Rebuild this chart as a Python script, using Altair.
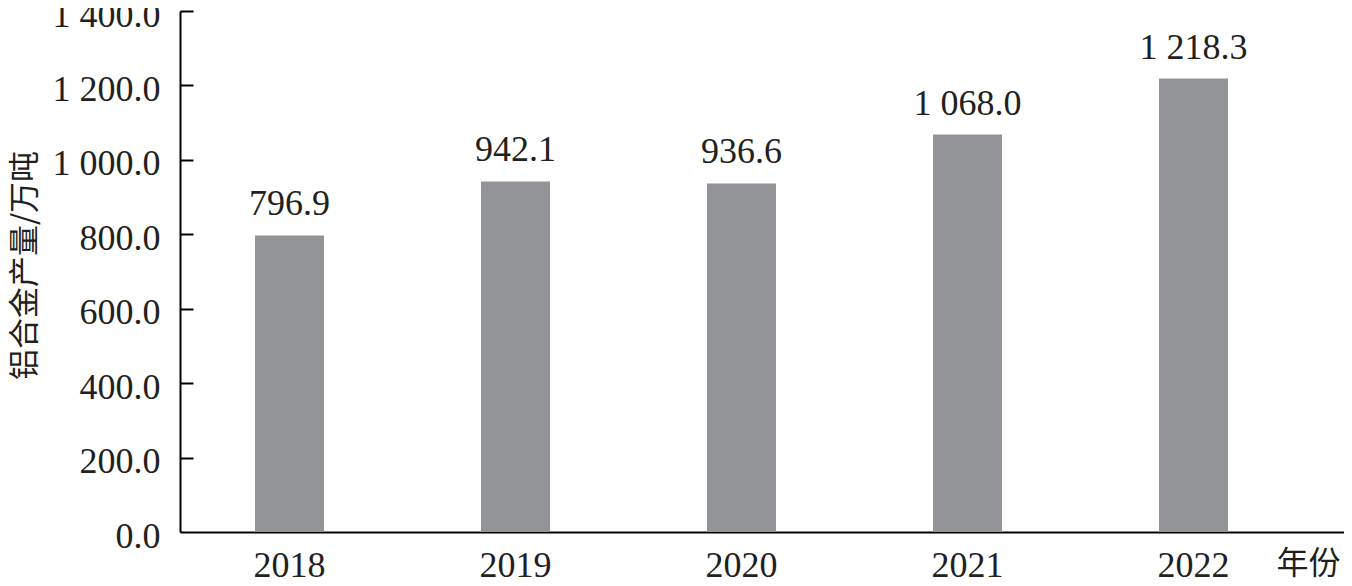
import altair as alt
import pandas as pd

years = ["2018", "2019", "2020", "2021", "2022"]
output = [796.9, 942.1, 936.6, 1068.0, 1218.3]
y_ticks = [0, 200, 400, 600, 800, 1000, 1200, 1400]
inner_ticks = [200, 400, 600, 800, 1000, 1200, 1400]

df = pd.DataFrame({"year": years, "value": output})

SERIF = "Liberation Serif"
CJK = "Noto Sans CJK SC"
FMT = "replace(format(datum.value, ',.1f'), ',', ' ')"
W, H = 1164, 521

xscale = alt.Scale(paddingInner=0.6947, paddingOuter=0.4226, align=0.3927)
yscale = alt.Scale(domain=[0, 1400], nice=False, zero=True)

base = alt.Chart(df)

bars = base.mark_bar(color="#929497").encode(
    x=alt.X("year:N", scale=xscale, sort=years,
            axis=alt.Axis(title="年份", labelAngle=0, ticks=False, domain=True,
                          domainColor="black", domainWidth=2,
                          labelFont=SERIF, labelFontSize=36, labelColor="#231f20",
                          labelBaseline="alphabetic", labelPadding=44,
                          titleFont=CJK, titleFontSize=32, titleFontWeight="normal",
                          titleColor="#231f20", titleX=1128, titleY=31,
                          titleAlign="center", titleBaseline="middle")),
    y=alt.Y("value:Q", scale=yscale,
            axis=alt.Axis(title="铝合金产量/万吨", values=y_ticks, grid=False, ticks=False,
                          domain=True, domainColor="black", domainWidth=2,
                          labelExpr=FMT, labelFont=SERIF, labelFontSize=36,
                          labelColor="#231f20", labelPadding=20, labelOffset=4,
                          titleFont=CJK, titleFontSize=31, titleFontWeight="normal",
                          titleColor="#231f20", titleX=-155, titleY=254,
                          titleAlign="center", titleBaseline="middle", titleAngle=270)),
)

# inward ticks: a second (right-oriented) axis pulled back onto the left edge
labels = base.transform_calculate(
    lab="replace(format(datum.value, ',.1f'), ',', ' ')"
).mark_text(font=SERIF, fontSize=36, color="#231f20", baseline="alphabetic", dy=-20).encode(
    x=alt.X("year:N", scale=xscale, sort=years),
    y=alt.Y("value:Q", scale=yscale,
            axis=alt.Axis(orient="right", offset=-W, values=inner_ticks, title=None,
                          labels=False, domain=False, grid=False, ticks=True,
                          tickSize=13, tickWidth=2, tickColor="black")),
    text="lab:N",
)

chart = alt.layer(bars, labels).resolve_axis(y="independent").properties(
    width=W, height=H,
    padding={"left": 172, "top": 3, "right": 0, "bottom": 46},
    autosize=alt.AutoSizeParams(type="none"),
    background="white",
).configure_view(stroke=None)

chart.save("out.html", embed_options={"renderer": "svg", "actions": False})
